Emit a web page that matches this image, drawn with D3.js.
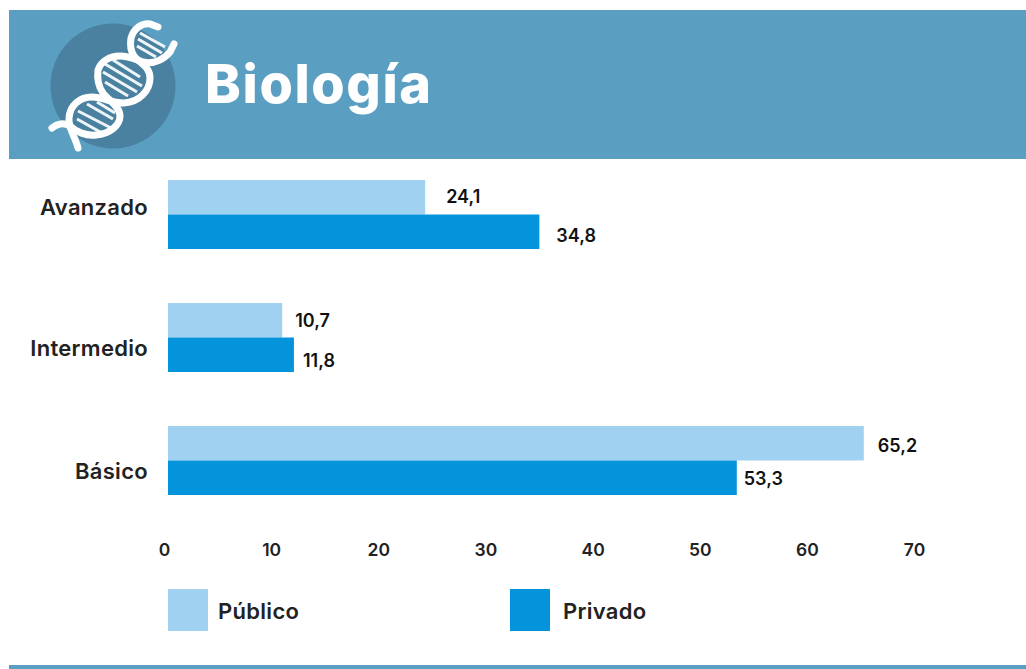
<!DOCTYPE html>
<html>
<head>
<meta charset="utf-8">
<script src="https://cdnjs.cloudflare.com/ajax/libs/d3/7.8.5/d3.min.js"></script>
<style>
  html, body { margin: 0; padding: 0; background: #fff; }
  svg { display: block; font-family: Inter, "Noto Sans", sans-serif; }
</style>
</head>
<body>
<svg id="chart" width="1026" height="669"></svg>
<script>
var categories = ["Avanzado", "Intermedio", "Básico"];
var seriesNames = ["Público", "Privado"];
var publico = [24.1, 10.7, 65.2];
var privado = [34.8, 11.8, 53.3];
var xTicks = [0, 10, 20, 30, 40, 50, 60, 70];

var colors = { "Público": "#a1d1f1", "Privado": "#0494db" };

// value labels in the original are placed by hand, so nudge them [dx, dy]
var labelNudge = {
  "Público": [[7, -1], [-1, 0], [0, 2]],
  "Privado": [[3, 4], [-5, 6], [-7, 1]]
};
var categoryNudge = [-7, 11, 11];

var svg = d3.select("#chart");

// banner
svg.append("rect").attr("x", 9).attr("y", 10).attr("width", 1017).attr("height", 149).attr("fill", "#5a9fc2");
svg.append("circle").attr("cx", 113).attr("cy", 86).attr("r", 62.5).attr("fill", "#4a81a0");

// dna icon
var strands = [
  "M78,148 C75,136 68,128 69,118 C70,105 80,97 92,97 C104,97 110,103 124,103 C140,102 150,90 150,78 C150,66 138,62 134,56 C130,50 130,44 131,38 C134,28 142,23 150,24 L158,27",
  "M52,128 C57,124 64,122 70,126 C76,132 86,136 96,135 C110,134 120,125 120,116 C120,106 108,100 103,93 C98,86 97,78 98,70 C101,61 110,56 120,56 C130,56 136,60 143,62 C155,65 165,58 170,52 L174,44"
];
var rungs = [
  [140, 33, 165, 47], [138, 39, 162, 53], [137, 46, 156, 57],
  [113, 60, 140, 77], [105, 64, 142, 86], [103, 72, 137, 92], [105, 82, 128, 96],
  [97, 102, 115, 113], [87, 104, 113, 119], [78, 111, 115, 130], [77, 119, 102, 133]
];
var icon = svg.append("g");
icon.selectAll("line").data(rungs).join("line")
  .attr("x1", function (d) { return d[0]; })
  .attr("y1", function (d) { return d[1]; })
  .attr("x2", function (d) { return d[2]; })
  .attr("y2", function (d) { return d[3]; })
  .attr("stroke", "#eef5f9").attr("stroke-width", 3);
icon.selectAll("path").data(strands).join("path")
  .attr("d", function (d) { return d; })
  .attr("fill", "none").attr("stroke", "#fff").attr("stroke-width", 7).attr("stroke-linecap", "round");

svg.append("text").attr("x", 205).attr("y", 103)
  .attr("font-size", 54).attr("font-weight", 800).attr("letter-spacing", 1.6).attr("fill", "#fff")
  .text("Biología");

// scales
var x = d3.scaleLinear().domain([0, 70]).range([168, 915]);
var xLabels = d3.scaleLinear().domain([0, 70]).range([164, 914]); // tick labels sit a bit left of the bars
var y = d3.scaleBand().domain(categories).range([180, 495]).paddingInner(54 / 123).paddingOuter(0);
var y1 = d3.scaleBand().domain(seriesNames).range([0, y.bandwidth()]);
var values = { "Público": publico, "Privado": privado };

// bars
seriesNames.forEach(function (name) {
  svg.append("g").selectAll("rect").data(values[name]).join("rect")
    .attr("x", x(0))
    .attr("y", function (d, i) { return y(categories[i]) + y1(name); })
    .attr("width", function (d) { return x(d) - x(0); })
    .attr("height", y1.bandwidth())
    .attr("fill", colors[name]);

  svg.append("g").selectAll("text").data(values[name]).join("text")
    .attr("x", function (d, i) { return x(d) + 14 + labelNudge[name][i][0]; })
    .attr("y", function (d, i) { return y(categories[i]) + y1(name) + y1.bandwidth() / 2 + labelNudge[name][i][1]; })
    .attr("dy", "0.35em")
    .attr("font-size", 18).attr("font-weight", 600).attr("fill", "#111")
    .text(function (d) { return String(d).replace(".", ","); });
});

// category labels
svg.append("g").selectAll("text").data(categories).join("text")
  .attr("x", 148)
  .attr("y", function (d, i) { return y(d) + y.bandwidth() / 2 + categoryNudge[i]; })
  .attr("dy", "0.35em")
  .attr("text-anchor", "end")
  .attr("font-size", 22).attr("font-weight", 600).attr("letter-spacing", 0.3).attr("fill", "#222")
  .text(function (d) { return d; });

// axis, ticks only
var xAxis = svg.append("g")
  .call(d3.axisBottom(xLabels).tickValues(xTicks).tickSize(0).tickPadding(0));
xAxis.select(".domain").remove();
xAxis.selectAll("text")
  .attr("y", 550).attr("dy", "0.35em")
  .attr("font-family", "Inter, sans-serif")
  .attr("font-size", 17.5).attr("font-weight", 600).attr("fill", "#222");

// legend
var legendX = d3.scaleOrdinal().domain(seriesNames).range([168, 510]);
var legend = svg.append("g").selectAll("g").data(seriesNames).join("g")
  .attr("transform", function (d) { return "translate(" + legendX(d) + ",589)"; });
legend.append("rect").attr("width", 40).attr("height", 42)
  .attr("fill", function (d) { return colors[d]; });
legend.append("text")
  .attr("x", function (d, i) { return i === 0 ? 50 : 53; })
  .attr("y", 22).attr("dy", "0.35em")
  .attr("font-size", 22).attr("font-weight", 600).attr("letter-spacing", 0.3).attr("fill", "#222")
  .text(function (d) { return d; });

// bottom rule
svg.append("rect").attr("x", 9).attr("y", 665).attr("width", 1017).attr("height", 4).attr("fill", "#5a9fc2");
</script>
</body>
</html>
